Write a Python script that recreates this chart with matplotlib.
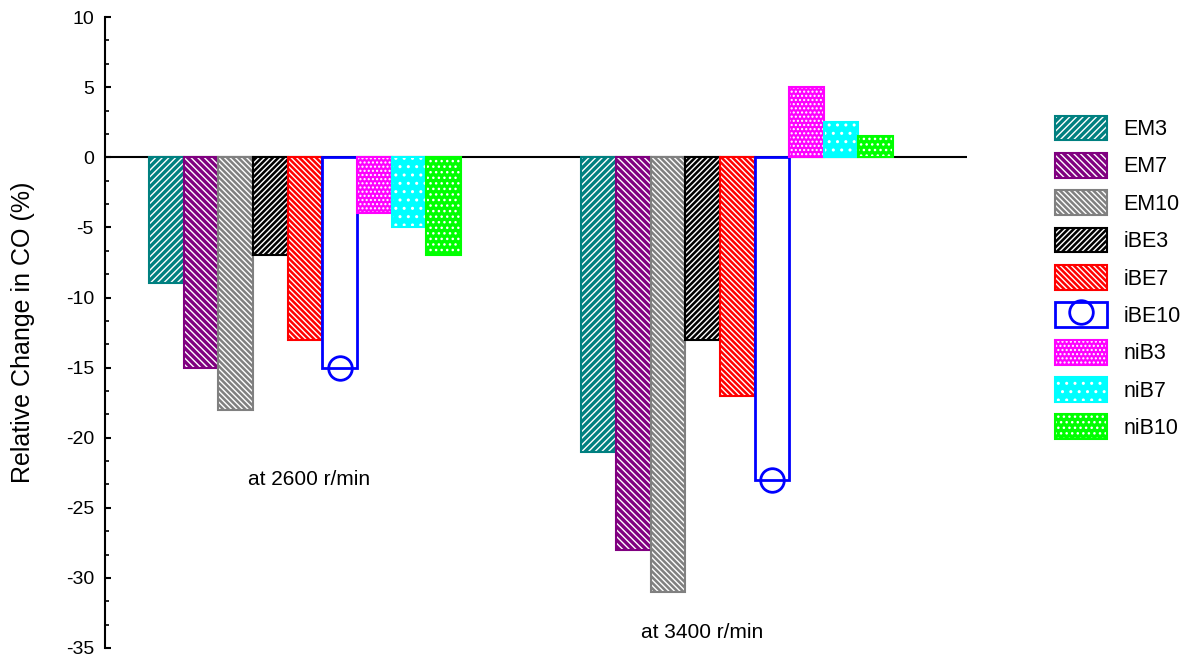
import numpy as np
import matplotlib
matplotlib.use("Agg")
import matplotlib.pyplot as plt
from matplotlib.patches import Patch
from matplotlib.lines import Line2D
from matplotlib.legend_handler import HandlerTuple
from matplotlib.ticker import MultipleLocator

plt.rcParams['font.family'] = ['Liberation Sans', 'DejaVu Sans']
plt.rcParams['hatch.linewidth'] = 1.0
plt.rcParams['axes.unicode_minus'] = False

# Data
speeds = ['at 2600 r/min', 'at 3400 r/min']
series = ['EM3', 'EM7', 'EM10', 'iBE3', 'iBE7', 'iBE10', 'niB3', 'niB7', 'niB10']
values = {
    'EM3':   [-9, -21],
    'EM7':   [-15, -28],
    'EM10':  [-18, -31],
    'iBE3':  [-7, -13],
    'iBE7':  [-13, -17],
    'iBE10': [-15, -23],
    'niB3':  [-4, 5],
    'niB7':  [-5, 2.5],
    'niB10': [-7, 1.5],
}
colors = ['#008080', '#800080', '#808080', '#000000', '#ff0000',
          '#0000ff', '#ff00ff', '#00ffff', '#00ff00']
hatches = ['/' * 5, '\\' * 5, '\\' * 6, '/' * 6, '\\' * 6,
           None, '....', '..', '...']

fig = plt.figure(figsize=(11.87, 6.59), dpi=100)
ax = fig.add_axes([0.0885, 0.0167, 0.7262, 0.9573])

x = np.array([1, 2])
width = 0.0802
n = len(series)
handles = []
for i, (name, col, h) in enumerate(zip(series, colors, hatches)):
    pos = x + (i - (n - 1) / 2) * width
    vals = values[name]
    if h is None:
        # open bar with a circle marker at the bottom
        ax.bar(pos, vals, width, facecolor='white', edgecolor=col, linewidth=2, zorder=2)
        ax.plot(pos, vals, 'o', ms=17, mfc='none', mec=col, mew=2, zorder=3, clip_on=False)
        hd = (Patch(facecolor='white', edgecolor=col, linewidth=2),
              Line2D([], [], marker='o', ls='none', ms=17, mfc='none', mec=col, mew=2))
    else:
        ax.bar(pos, vals, width, facecolor=col, edgecolor='white', hatch=h, linewidth=0, zorder=2)
        ax.bar(pos, vals, width, fill=False, edgecolor=col, linewidth=1.5, zorder=2)
        hd = (Patch(facecolor=col, edgecolor='white', hatch=h, linewidth=0),
              Patch(fill=False, edgecolor=col, linewidth=1.5))
    handles.append(hd)

ax.axhline(0, color='black', lw=1.5, zorder=1)

ax.text(1.01, -23.0, speeds[0], ha='center', va='center', fontsize=15)
ax.text(1.92, -33.9, speeds[1], ha='center', va='center', fontsize=15)

ax.set_xlim(0.537, 2.532)
ax.set_ylim(-35, 10)
ax.yaxis.set_major_locator(MultipleLocator(5))
ax.yaxis.set_minor_locator(MultipleLocator(5 / 3))
ax.tick_params(axis='y', which='major', direction='in', length=4, width=1.5,
               labelsize=14, pad=8)
ax.tick_params(axis='y', which='minor', direction='in', length=3, width=1.2)
ax.set_xticks([])
for s in ['top', 'right', 'bottom']:
    ax.spines[s].set_visible(False)
ax.spines['left'].set_linewidth(1.5)
ax.set_ylabel('Relative Change in CO (%)', fontsize=18)
ax.yaxis.set_label_coords(-0.081, 0.5)

fig.legend(handles, series, handler_map={tuple: HandlerTuple(ndivide=1, pad=0)},
           loc='upper left', bbox_to_anchor=(0.880, 0.841), frameon=False,
           fontsize=15.5, handlelength=2.4, handleheight=1.4, labelspacing=0.58,
           handletextpad=0.75, borderpad=0)

fig.savefig('out.png', dpi=100)
